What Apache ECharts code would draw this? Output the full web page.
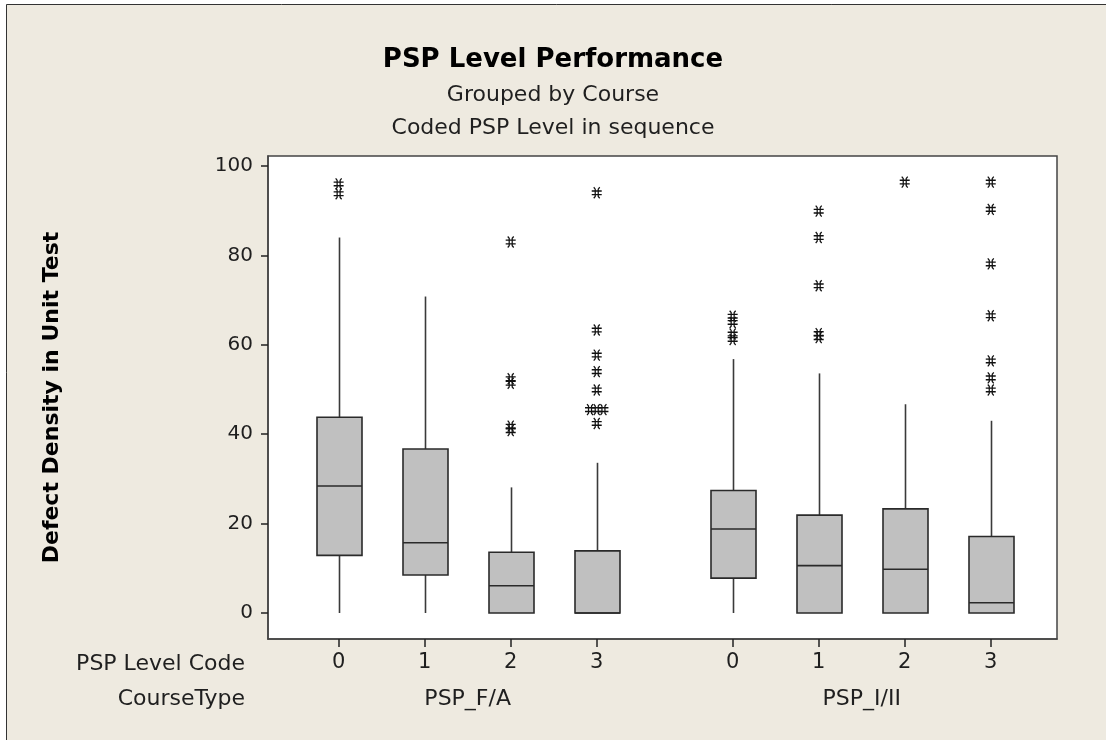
<!DOCTYPE html>
<html>
    <head>
        <meta charset="utf-8" />
        <title>PSP Level Performance</title>
        <script src="https://cdn.jsdelivr.net/npm/echarts@6/dist/echarts.min.js"></script>
        <style>
            html, body { margin: 0; padding: 0; background: #fff; }
        </style>
    </head>
    <body>
        <div id="main" style="width: 1106px;height: 740px;"></div>
        <script type="text/javascript">
            // categories
            const courseTypes = ['PSP_F/A', 'PSP_I/II'];
            const levelCodes = ['0', '1', '2', '3'];

            // box statistics, one entry per (course, level)
            const whiskerLow = [0, 0, 0, 0, 0, 0, 0, 0];
            const q1 = [12.9, 8.5, 0, 0, 7.8, 0, 0, 0];
            const median = [28.4, 15.7, 6.1, 0, 18.8, 10.6, 9.8, 2.3];
            const q3 = [43.8, 36.7, 13.6, 13.9, 27.4, 21.9, 23.3, 17.1];
            const whiskerHigh = [84.0, 70.8, 28.1, 33.6, 56.8, 53.6, 46.7, 43.0];

            // outliers per box
            const outliers = [
                [96.0, 93.8],
                [],
                [83.0, 52.4, 51.4, 41.8, 40.8],
                [94.0, 63.3, 57.7, 54.0, 49.9, 45.5, 45.5, 45.5, 42.4],
                [66.4, 65.0, 62.4, 61.2],
                [89.9, 84.0, 73.2, 62.5, 61.6],
                [96.4],
                [96.4, 90.3, 78.1, 66.5, 56.4, 52.6, 49.9]
            ];

            const yTicks = [0, 20, 40, 60, 80, 100];

            // layout
            const GROUP_STEP = 4.58;   // distance between first boxes of the two groups
            const TIE_STEP = 0.078;    // horizontal spread of tied outliers
            const BOX_HALF = 22.5;
            const FONT = '"DejaVu Sans", sans-serif';
            const TEXT_COLOR = '#1f1f1f';

            const positions = [];
            const labelOf = [];
            courseTypes.forEach((c, g) => {
                levelCodes.forEach((l, i) => {
                    positions.push(g * GROUP_STEP + i);
                    labelOf.push(l);
                });
            });
            const groupCenters = courseTypes.map((c, g) => g * GROUP_STEP + (levelCodes.length - 1) / 2);

            const boxData = positions.map((p, i) => [p, whiskerLow[i], q1[i], median[i], q3[i], whiskerHigh[i]]);

            const outlierData = [];
            outliers.forEach((list, i) => {
                const seen = {};
                list.forEach(v => { seen[v] = (seen[v] || 0) + 1; });
                const used = {};
                list.forEach(v => {
                    const k = seen[v];
                    const n = used[v] || 0;
                    used[v] = n + 1;
                    outlierData.push([positions[i] + (n - (k - 1) / 2) * TIE_STEP, v]);
                });
            });

            const findLabel = (v) => {
                const idx = positions.findIndex(p => Math.abs(p - v) < 1e-6);
                return idx >= 0 ? labelOf[idx] : '';
            };

            const myChart = echarts.init(document.getElementById('main'));

            const option = {
                backgroundColor: '#EEEAE0',
                animation: false,
                title: [
                    {
                        text: 'PSP Level Performance',
                        left: 'center',
                        top: 42,
                        textStyle: { fontFamily: FONT, fontWeight: 'bold', fontSize: 26, color: '#000' }
                    },
                    {
                        text: 'Grouped by Course',
                        left: 'center',
                        top: 79,
                        textStyle: { fontFamily: FONT, fontWeight: 'normal', fontSize: 22, color: TEXT_COLOR }
                    },
                    {
                        text: 'Coded PSP Level in sequence',
                        left: 'center',
                        top: 112,
                        textStyle: { fontFamily: FONT, fontWeight: 'normal', fontSize: 22, color: TEXT_COLOR }
                    }
                ],
                grid: {
                    left: 268,
                    right: 49,
                    top: 156,
                    bottom: 101,
                    show: true,
                    backgroundColor: '#fff',
                    borderColor: '#444',
                    borderWidth: 1.5
                },
                xAxis: {
                    type: 'value',
                    position: 'bottom',
                    min: -0.821,
                    max: 8.35,
                    axisLine: { show: true, onZero: false, lineStyle: { color: '#444', width: 1.5 } },
                    splitLine: { show: false },
                    axisTick: { show: true, inside: false, customValues: positions, length: 8, lineStyle: { color: '#222', width: 1.5 } },
                    axisLabel: {
                        customValues: positions,
                        margin: 13,
                        fontFamily: FONT,
                        fontSize: 21,
                        color: TEXT_COLOR,
                        formatter: findLabel
                    }
                },
                yAxis: {
                    type: 'value',
                    min: -5.82,
                    max: 102.24,
                    name: 'Defect Density in Unit Test',
                    nameLocation: 'middle',
                    nameRotate: 90,
                    nameGap: 205,
                    nameTextStyle: { fontFamily: FONT, fontWeight: 'bold', fontSize: 22, color: '#000' },
                    axisLine: { show: true, onZero: false, lineStyle: { color: '#444', width: 1.5 } },
                    splitLine: { show: false },
                    axisTick: { show: true, customValues: yTicks, length: 7, lineStyle: { color: '#222', width: 1.5 } },
                    axisLabel: {
                        customValues: yTicks,
                        margin: 15,
                        fontFamily: FONT,
                        fontSize: 20,
                        color: TEXT_COLOR
                    }
                },
                series: [
                    {
                        type: 'custom',
                        name: 'box',
                        data: boxData,
                        encode: { x: 0, y: [1, 2, 3, 4, 5] },
                        renderItem: (params, api) => {
                            const x = api.value(0);
                            const lo = api.coord([x, api.value(1)]);
                            const b1 = api.coord([x, api.value(2)]);
                            const md = api.coord([x, api.value(3)]);
                            const b3 = api.coord([x, api.value(4)]);
                            const hi = api.coord([x, api.value(5)]);
                            const cx = Math.round(lo[0]) + 0.5;
                            const lineStyle = { stroke: '#3a3a3a', lineWidth: 1.6 };
                            return {
                                type: 'group',
                                children: [
                                    { type: 'line', shape: { x1: cx, y1: hi[1], x2: cx, y2: b3[1] }, style: lineStyle },
                                    { type: 'line', shape: { x1: cx, y1: b1[1], x2: cx, y2: lo[1] }, style: lineStyle },
                                    {
                                        type: 'rect',
                                        shape: { x: cx - BOX_HALF, y: b3[1], width: BOX_HALF * 2, height: b1[1] - b3[1] },
                                        style: { fill: '#C0C0C0', stroke: '#2a2a2a', lineWidth: 1.6 }
                                    },
                                    { type: 'line', shape: { x1: cx - BOX_HALF, y1: md[1], x2: cx + BOX_HALF, y2: md[1] }, style: { stroke: '#2a2a2a', lineWidth: 1.6 } }
                                ]
                            };
                        }
                    },
                    {
                        type: 'scatter',
                        name: 'outliers',
                        data: outlierData,
                        symbol: 'path://M2,0L3.5,2L3.5,10L2,12M8,0L6.5,2L6.5,10L8,12M0,4L10,4M0,8L10,8',
                        symbolSize: [10, 11],
                        itemStyle: { color: 'rgba(0,0,0,0)', borderColor: '#111', borderWidth: 1.3, opacity: 1 },
                        z: 5
                    }
                ]
            };
            myChart.setOption(option);

            // frame, row headers and course-type labels (placed through the x axis scale)
            const graphics = [
                { type: 'rect', silent: true, shape: { x: 0, y: 0, width: 6, height: 740 }, style: { fill: '#fff' } },
                { type: 'rect', silent: true, shape: { x: 0, y: 0, width: 1106, height: 4 }, style: { fill: '#fff' } },
                { type: 'polyline', silent: true, shape: { points: [[6.5, 740], [6.5, 4.5], [1106, 4.5]] }, style: { stroke: '#333', lineWidth: 1, fill: null } },
                {
                    type: 'text', silent: true,
                    style: { text: 'PSP Level Code', x: 245, y: 664, align: 'right', verticalAlign: 'middle', font: '22px ' + FONT, fill: TEXT_COLOR }
                },
                {
                    type: 'text', silent: true,
                    style: { text: 'CourseType', x: 245, y: 699, align: 'right', verticalAlign: 'middle', font: '22px ' + FONT, fill: TEXT_COLOR }
                }
            ];
            courseTypes.forEach((c, g) => {
                const px = myChart.convertToPixel({ xAxisIndex: 0 }, groupCenters[g]);
                graphics.push({
                    type: 'text', silent: true,
                    style: { text: c, x: px, y: 699, align: 'center', verticalAlign: 'middle', font: '22px ' + FONT, fill: TEXT_COLOR }
                });
            });
            myChart.setOption({ graphic: graphics });
        </script>
    </body>
</html>
